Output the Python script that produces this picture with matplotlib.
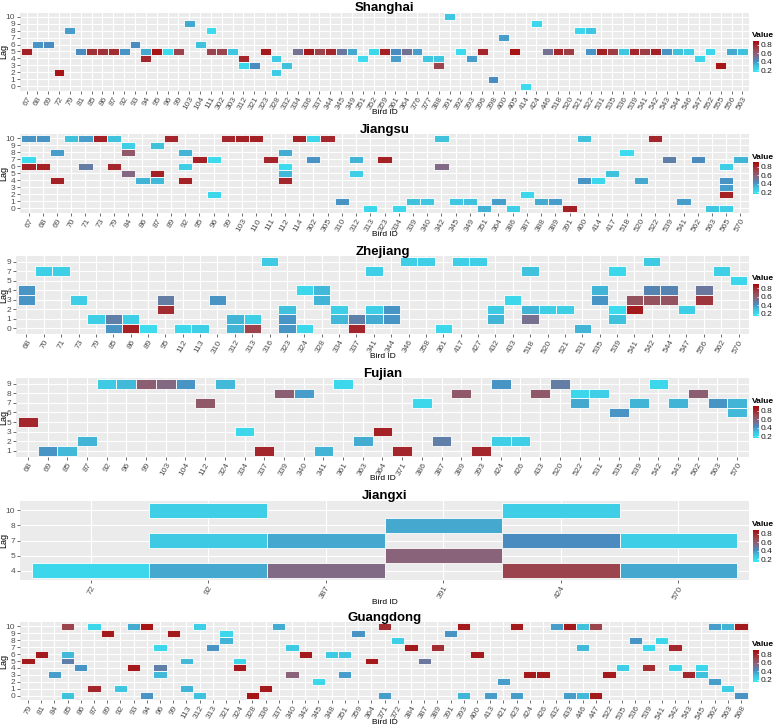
import numpy as np
import matplotlib
matplotlib.use('Agg')
import matplotlib.pyplot as plt
from matplotlib.colors import LinearSegmentedColormap, Normalize
from matplotlib.cm import ScalarMappable

plt.rcParams['font.family'] = ['Liberation Sans', 'DejaVu Sans']

# ---- data: (bird, lag, value) per province ----
sh_birds = [67, 68, 69, 72, 79, 81, 85, 86, 87, 92, 93, 94, 95, 96, 99, 103, 104, 111, 302, 303,
            312, 321, 323, 328, 332, 334, 336, 337, 344, 345, 349, 351, 352, 359, 361, 364, 376, 377,
            388, 391, 392, 393, 396, 398, 400, 405, 414, 424, 446, 518, 520, 521, 522, 531, 535, 536,
            539, 541, 542, 543, 544, 546, 547, 552, 555, 556, 563]
sh_lags = [0, 1, 2, 3, 4, 5, 6, 7, 8, 9, 10]
sh_tiles = [(67, 5, 0.82), (68, 6, 0.4), (69, 6, 0.42), (72, 2, 0.86), (79, 8, 0.38), (81, 5, 0.42),
            (85, 5, 0.76), (86, 5, 0.76), (87, 5, 0.78), (92, 5, 0.4), (93, 6, 0.42), (94, 5, 0.36),
            (94, 4, 0.8), (95, 5, 0.86), (96, 5, 0.2), (99, 5, 0.7), (103, 9, 0.36), (104, 6, 0.3),
            (111, 8, 0.2), (111, 5, 0.7), (302, 5, 0.7), (303, 5, 0.28), (312, 4, 0.8), (312, 3, 0.22),
            (321, 3, 0.42), (323, 5, 0.84), (328, 4, 0.26), (328, 2, 0.26), (332, 3, 0.3), (334, 5, 0.52),
            (336, 5, 0.84), (337, 5, 0.7), (344, 5, 0.8), (345, 5, 0.5), (349, 5, 0.36), (351, 4, 0.2),
            (352, 5, 0.22), (359, 5, 0.82), (361, 5, 0.42), (361, 4, 0.38), (364, 5, 0.52), (376, 5, 0.38),
            (377, 4, 0.28), (388, 4, 0.28), (388, 3, 0.7), (391, 10, 0.28), (392, 5, 0.2), (393, 4, 0.38),
            (396, 5, 0.8), (398, 1, 0.42), (400, 7, 0.38), (405, 5, 0.86), (414, 0, 0.2), (424, 9, 0.22),
            (446, 5, 0.52), (518, 5, 0.8), (520, 5, 0.72), (521, 8, 0.22), (522, 8, 0.28), (522, 5, 0.4),
            (531, 5, 0.82), (535, 5, 0.72), (536, 5, 0.28), (539, 5, 0.8), (541, 5, 0.72), (542, 5, 0.82),
            (543, 5, 0.4), (544, 5, 0.3), (546, 5, 0.25), (547, 4, 0.22), (552, 5, 0.22), (555, 3, 0.86),
            (556, 5, 0.36), (563, 5, 0.3)]

js_birds = [67, 68, 69, 70, 71, 73, 79, 84, 86, 87, 89, 92, 95, 96, 99, 103, 110, 111, 112, 114, 302,
            305, 310, 312, 313, 323, 334, 339, 340, 342, 345, 349, 351, 364, 386, 387, 388, 389, 391,
            400, 414, 417, 518, 520, 522, 539, 541, 562, 563, 565, 570]
js_lags = [0, 1, 2, 3, 4, 5, 6, 7, 8, 9, 10]
js_tiles = [(67, 10, 0.4), (67, 7, 0.2), (67, 6, 0.82), (68, 10, 0.4), (68, 6, 0.82), (69, 8, 0.38),
            (69, 4, 0.82), (70, 10, 0.3), (71, 10, 0.38), (71, 6, 0.48), (73, 10, 0.82), (79, 10, 0.3),
            (79, 6, 0.8), (84, 9, 0.25), (84, 8, 0.62), (84, 5, 0.56), (86, 4, 0.33), (87, 9, 0.3),
            (87, 5, 0.82), (87, 4, 0.32), (89, 10, 0.8), (92, 8, 0.33), (92, 6, 0.25), (92, 4, 0.82),
            (95, 7, 0.82), (96, 7, 0.2), (96, 2, 0.22), (99, 10, 0.8), (103, 10, 0.82), (110, 10, 0.82),
            (111, 7, 0.8), (112, 8, 0.35), (112, 6, 0.2), (112, 5, 0.32), (112, 4, 0.8), (114, 10, 0.82),
            (302, 10, 0.22), (302, 7, 0.4), (305, 10, 0.8), (310, 1, 0.4), (312, 7, 0.33), (312, 5, 0.25),
            (313, 0, 0.22), (323, 7, 0.82), (334, 0, 0.22), (339, 1, 0.3), (340, 1, 0.28), (342, 10, 0.3),
            (342, 6, 0.55), (345, 1, 0.28), (349, 1, 0.3), (351, 0, 0.34), (364, 1, 0.38), (386, 0, 0.25),
            (387, 2, 0.22), (388, 1, 0.35), (389, 1, 0.38), (391, 0, 0.82), (400, 10, 0.3), (400, 4, 0.4),
            (414, 4, 0.22), (417, 5, 0.3), (518, 8, 0.2), (520, 4, 0.36), (522, 10, 0.8), (539, 7, 0.47),
            (541, 1, 0.38), (562, 7, 0.42), (563, 0, 0.28), (565, 6, 0.25), (565, 4, 0.4), (565, 3, 0.38),
            (565, 2, 0.82), (565, 0, 0.25), (570, 7, 0.33)]

zj_birds = [68, 70, 71, 73, 79, 85, 86, 89, 95, 112, 113, 310, 312, 313, 316, 323, 324, 328, 334, 337,
            341, 344, 346, 358, 361, 417, 427, 432, 433, 518, 520, 521, 531, 535, 539, 541, 542, 544,
            547, 556, 562, 570]
zj_lags = [0, 1, 2, 3, 4, 5, 7, 9]
zj_tiles = [(68, 4, 0.4), (68, 3, 0.4), (70, 7, 0.25), (71, 7, 0.25), (73, 3, 0.25), (79, 1, 0.25),
            (85, 1, 0.47), (85, 0, 0.4), (86, 1, 0.25), (86, 0, 0.82), (89, 0, 0.2), (95, 3, 0.48),
            (95, 2, 0.78), (112, 0, 0.22), (113, 0, 0.25), (310, 3, 0.4), (312, 1, 0.33), (312, 0, 0.33),
            (313, 1, 0.25), (313, 0, 0.7), (316, 9, 0.27), (323, 2, 0.3), (323, 1, 0.4), (323, 0, 0.4),
            (324, 4, 0.22), (324, 0, 0.22), (328, 4, 0.32), (328, 3, 0.33), (334, 2, 0.25), (334, 1, 0.32),
            (337, 1, 0.47), (337, 0, 0.8), (341, 7, 0.25), (341, 2, 0.25), (341, 1, 0.35), (344, 2, 0.4),
            (344, 1, 0.4), (346, 9, 0.25), (358, 9, 0.25), (361, 0, 0.22), (417, 9, 0.25), (427, 9, 0.25),
            (432, 2, 0.27), (432, 1, 0.33), (433, 3, 0.22), (518, 7, 0.3), (518, 2, 0.33), (518, 1, 0.53),
            (520, 2, 0.25), (521, 2, 0.25), (531, 0, 0.33), (535, 4, 0.33), (535, 3, 0.4), (539, 7, 0.22),
            (539, 2, 0.2), (539, 1, 0.3), (541, 3, 0.65), (541, 2, 0.84), (542, 9, 0.27), (542, 4, 0.45),
            (542, 3, 0.65), (544, 4, 0.45), (544, 3, 0.65), (547, 2, 0.25), (556, 4, 0.5), (556, 3, 0.75),
            (562, 7, 0.25), (570, 5, 0.22)]

fj_birds = [68, 69, 85, 87, 92, 96, 99, 103, 104, 112, 324, 334, 337, 339, 340, 341, 361, 363, 364,
            371, 386, 387, 389, 393, 424, 426, 433, 520, 522, 531, 535, 539, 542, 543, 562, 563, 570]
fj_lags = [1, 2, 3, 5, 6, 7, 8, 9]
fj_tiles = [(68, 5, 0.8), (69, 1, 0.4), (85, 1, 0.32), (87, 2, 0.33), (92, 9, 0.27), (96, 9, 0.32),
            (99, 9, 0.6), (103, 9, 0.56), (104, 9, 0.4), (112, 7, 0.62), (324, 9, 0.32), (334, 3, 0.22),
            (337, 1, 0.8), (339, 8, 0.6), (340, 8, 0.38), (341, 1, 0.33), (361, 9, 0.22), (363, 2, 0.35),
            (364, 3, 0.82), (371, 1, 0.8), (386, 7, 0.22), (387, 2, 0.47), (389, 8, 0.62), (393, 1, 0.8),
            (424, 9, 0.4), (424, 2, 0.25), (426, 2, 0.25), (433, 8, 0.62), (520, 9, 0.48), (522, 8, 0.22),
            (522, 7, 0.36), (531, 8, 0.25), (535, 6, 0.4), (539, 7, 0.33), (542, 9, 0.22), (543, 7, 0.33),
            (562, 8, 0.6), (563, 7, 0.4), (570, 7, 0.33), (570, 6, 0.32)]

jx_birds = [72, 92, 387, 391, 424, 570]
jx_lags = [4, 5, 7, 8, 10]
jx_tiles = [(72, 4, 0.22), (92, 10, 0.25), (92, 7, 0.27), (92, 4, 0.36), (387, 7, 0.36), (387, 4, 0.55),
            (391, 8, 0.36), (391, 5, 0.58), (424, 10, 0.25), (424, 7, 0.42), (424, 4, 0.7),
            (570, 7, 0.25), (570, 4, 0.36)]

gd_birds = [79, 81, 84, 85, 86, 87, 89, 92, 93, 94, 96, 99, 113, 312, 313, 321, 324, 328, 336, 337,
            340, 342, 345, 348, 351, 359, 364, 371, 372, 384, 387, 389, 391, 393, 400, 413, 421, 423,
            424, 426, 432, 433, 446, 447, 522, 535, 536, 539, 541, 542, 543, 545, 562, 563, 568]
gd_lags = [0, 1, 2, 3, 4, 5, 6, 7, 8, 9, 10]
gd_tiles = [(79, 5, 0.84), (81, 6, 0.84), (84, 3, 0.38), (85, 10, 0.7), (85, 6, 0.32), (85, 5, 0.47),
            (85, 0, 0.3), (86, 4, 0.4), (87, 10, 0.22), (87, 1, 0.8), (89, 9, 0.84), (92, 1, 0.28),
            (93, 10, 0.35), (93, 4, 0.84), (94, 10, 0.86), (94, 0, 0.4), (96, 7, 0.22), (96, 4, 0.47),
            (96, 3, 0.32), (99, 9, 0.84), (113, 5, 0.32), (113, 1, 0.33), (312, 10, 0.25), (312, 0, 0.3),
            (313, 7, 0.4), (321, 9, 0.22), (321, 8, 0.33), (324, 5, 0.22), (324, 4, 0.84), (328, 0, 0.86),
            (336, 1, 0.84), (337, 10, 0.35), (340, 7, 0.27), (340, 3, 0.58), (342, 6, 0.84), (345, 2, 0.22),
            (348, 6, 0.27), (351, 6, 0.28), (351, 3, 0.38), (359, 9, 0.4), (364, 5, 0.84), (371, 10, 0.78),
            (371, 0, 0.38), (372, 8, 0.25), (384, 7, 0.84), (387, 5, 0.5), (389, 7, 0.78), (391, 9, 0.4),
            (393, 10, 0.84), (393, 0, 0.33), (400, 6, 0.84), (413, 0, 0.38), (421, 2, 0.38), (423, 10, 0.84),
            (423, 0, 0.38), (424, 3, 0.84), (426, 3, 0.84), (432, 10, 0.38), (433, 10, 0.84), (433, 0, 0.38),
            (446, 10, 0.3), (446, 7, 0.32), (446, 0, 0.32), (447, 10, 0.7), (447, 0, 0.84), (522, 3, 0.84),
            (535, 4, 0.25), (536, 8, 0.4), (539, 7, 0.22), (539, 4, 0.78), (541, 8, 0.22), (542, 7, 0.8),
            (542, 4, 0.22), (543, 3, 0.8), (545, 4, 0.22), (545, 3, 0.3), (562, 10, 0.38), (562, 2, 0.38),
            (563, 10, 0.33), (563, 1, 0.25), (568, 10, 0.84), (568, 0, 0.4)]

legend_ticks = [0.2, 0.4, 0.6, 0.8]

# ---- layout (pixels) ----
W, H = 778, 726
PANEL_RIGHT = 749
# title, data, left, top, bottom
layout = [
    ('Shanghai', sh_birds, sh_lags, sh_tiles, 20, 12.5, 90.5),
    ('Jiangsu', js_birds, js_lags, js_tiles, 20, 134, 212.5),
    ('Zhejiang', zj_birds, zj_lags, zj_tiles, 16, 256, 334),
    ('Fujian', fj_birds, fj_lags, fj_tiles, 16, 378, 456.5),
    ('Jiangxi', jx_birds, jx_lags, jx_tiles, 20, 501, 580),
    ('Guangdong', gd_birds, gd_lags, gd_tiles, 20, 622, 700),
]

cmap = LinearSegmentedColormap.from_list('lagval', [
    (0.0, '#3AE8F7'), (0.2, '#40C2DD'), (0.36, '#4A8CC0'),
    (0.55, '#85677F'), (0.7, '#9A4C56'), (1.0, '#A80808')])
norm = Normalize(0.15, 0.9)


def px_rect(left, top, right, bottom):
    return [left / W, 1 - bottom / H, (right - left) / W, (bottom - top) / H]


fig = plt.figure(figsize=(W / 100, H / 100), dpi=100)

for title, birds, lags, tiles, left, top, bottom in layout:
    ax = fig.add_axes(px_rect(left, top, PANEL_RIGHT, bottom))
    ax.set_facecolor('#EBEBEB')
    for s in ax.spines.values():
        s.set_visible(False)

    xi = {b: i for i, b in enumerate(birds)}
    yi = {l: i for i, l in enumerate(lags)}
    bx = np.array([xi[t[0]] for t in tiles])
    by = np.array([yi[t[1]] for t in tiles])
    vals = np.array([t[2] for t in tiles])
    ax.bar(bx, 1.0, bottom=by - 0.5, width=1.0, color=cmap(norm(vals)),
           edgecolor='white', linewidth=0.6, zorder=3)

    ax.set_xlim(-0.6, len(birds) - 0.4)
    ax.set_ylim(-0.6, len(lags) - 0.4)
    ax.set_xticks(range(len(birds)))
    ax.set_xticklabels([str(b) for b in birds], rotation=60, ha='right', va='top',
                       rotation_mode='anchor')
    ax.set_yticks(range(len(lags)))
    ax.set_yticklabels([str(l) for l in lags])
    ax.set_axisbelow(True)
    ax.grid(True, color='white', linewidth=0.8)
    ax.tick_params(length=2, width=0.5, color='#333333', pad=1.5,
                   labelsize=6, labelcolor='#4D4D4D')

    cx = (left + PANEL_RIGHT) / 2
    cy = (top + bottom) / 2
    fig.text(cx / W, 1 - (top - 1.5) / H, title, ha='center', va='baseline',
             fontsize=9.5, fontweight='bold')
    fig.text(cx / W, 1 - (bottom + 22) / H, 'Bird ID', ha='center', va='center', fontsize=6)
    fig.text(4 / W, 1 - cy / H, 'Lag', ha='center', va='center', rotation=90, fontsize=6.5)

    # legend
    fig.text(752 / W, 1 - (cy - 16) / H, 'Value', ha='left', va='center',
             fontsize=6, fontweight='bold')
    cax = fig.add_axes(px_rect(753, cy - 11, 759, cy + 21))
    cb = fig.colorbar(ScalarMappable(norm=norm, cmap=cmap), cax=cax, ticks=legend_ticks)
    cb.outline.set_visible(False)
    cax.tick_params(length=1.5, width=0.5, color='white', direction='in', pad=1.5,
                    labelsize=6, labelcolor='#1A1A1A')
    cax.set_yticklabels([f'{t:.1f}' for t in legend_ticks])

fig.savefig('out.png', dpi=100)
